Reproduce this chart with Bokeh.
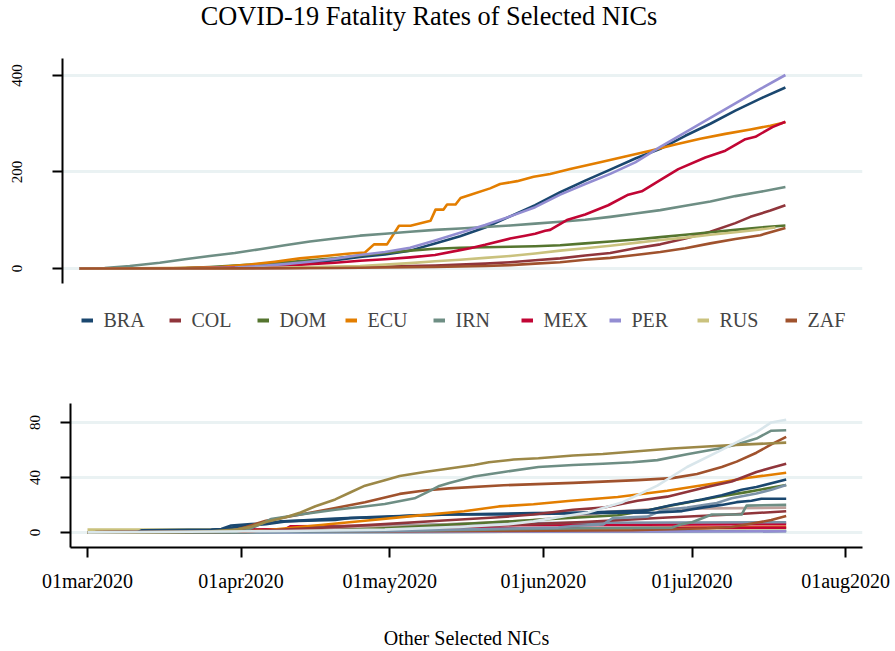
from bokeh.plotting import figure
from bokeh.models import Range1d, FixedTicker, Legend, LegendItem, Label
from bokeh.layouts import column
from bokeh.embed import file_html
from bokeh.resources import INLINE

FONT = "Liberation Serif"

# ---------------- text / ticks ----------------
title_text = "COVID-19 Fatality Rates of Selected NICs"
bottom_axis_label = "Other Selected NICs"
month_tick_days = [0, 31, 61, 92, 122, 153]          # days since 01mar2020
month_tick_labels = ["01mar2020", "01apr2020", "01may2020",
                     "01jun2020", "01jul2020", "01aug2020"]
top_yticks = [0, 200, 400]
bottom_yticks = [0, 40, 80]

# ---------------- top panel: selected NICs ----------------
countries = ["BRA", "COL", "DOM", "ECU", "IRN", "MEX", "PER", "RUS", "ZAF"]
country_colors = ["#1a476f", "#90353b", "#55752f", "#e37e00", "#6e8e84",
                  "#c10534", "#938dd2", "#cac27e", "#a0522d"]

bra_days = [0, 16, 21, 26, 31, 36, 41, 46, 51, 56, 61, 66, 71, 76, 81, 86, 91, 96, 101, 106, 111, 116, 121, 126, 131, 136, 141]
bra_vals = [0, 0, 0.5, 1.5, 3, 5, 8, 12, 17, 24, 29, 37, 52, 67, 85, 108, 131, 158, 182, 205, 228, 248, 275, 300, 327, 352, 375]

col_days = [0, 31, 41, 51, 61, 71, 76, 81, 86, 91, 96, 101, 106, 111, 116, 121, 126, 131, 134, 138, 141]
col_vals = [0, 0.3, 1, 2, 4, 6, 8, 10, 13, 17, 21, 27, 32, 42, 50, 62, 76, 94, 107, 120, 131]

dom_days = [0, 16, 21, 26, 31, 36, 41, 46, 51, 56, 61, 66, 71, 76, 81, 86, 91, 96, 101, 106, 111, 116, 121, 126, 131, 136, 141]
dom_vals = [0, 0, 1, 3, 6, 9, 13, 17, 21, 27, 32, 37, 41, 43, 44, 45, 46, 48, 52, 56, 60, 65, 70, 75, 80, 85, 89]

ecu_days = [0, 20, 28, 34, 39, 44, 49, 54, 57, 58.8, 61.4, 63.8, 66.1, 70.1, 71.1, 72.7, 73.4, 75.1, 76.1, 78.1, 82, 84, 87.4, 90.7, 94, 98, 104, 109, 114, 119, 124, 129, 134, 138, 141]
ecu_vals = [0, 1, 3, 8, 14, 21, 26, 31, 33, 50, 50, 88.6, 88.6, 99, 122, 122, 132.5, 132.5, 146, 153, 166, 175, 181, 190, 196, 206, 220, 232, 244, 257, 269, 279, 288, 296, 303]

irn_days = [0, 5, 10, 16, 21, 26, 31, 36, 41, 46, 51, 56, 61, 66, 71, 76, 81, 86, 91, 96, 101, 106, 111, 116, 121, 126, 131, 136, 141]
irn_vals = [0, 1, 5, 12, 19, 26, 32, 40, 48, 56, 62, 68, 72, 76, 80, 83, 86, 89, 93, 97, 101, 107, 114, 121, 130, 139, 150, 159, 169]

mex_days = [0, 21, 26, 31, 36, 41, 46, 51, 56, 61, 66, 71, 76, 78, 81, 86, 89, 91, 93, 94, 97.5, 101, 105.6, 109.6, 112.3, 116.3, 119.6, 125, 129, 133, 135, 138.4, 141]
mex_vals = [0, 0.3, 1, 2, 4, 6, 9, 12, 16, 19, 23, 28, 38, 42, 49, 62, 68, 72, 78, 80, 101, 112, 131, 153, 160, 185, 206, 230, 244, 268, 273, 293, 304]

per_days = [0, 16, 21, 26, 31, 36, 41, 46, 51, 56, 61, 66, 71, 76, 81, 86, 91, 96, 101, 106, 111, 116, 121, 126, 131, 136, 141]
per_vals = [0, 0, 0.3, 1, 2, 5, 9, 14, 20, 28, 34, 43, 58, 74, 90, 108, 127, 153, 175, 196, 220, 252, 282, 312, 342, 372, 401]

rus_days = [0, 31, 41, 51, 56, 61, 66, 71, 76, 81, 86, 91, 96, 101, 106, 111, 116, 121, 126, 131, 136, 139]
rus_vals = [0, 0.5, 2, 4, 5, 8, 11, 15, 18, 22, 26, 31, 37, 42, 47, 53, 59, 64, 70, 75, 81, 85]

zaf_days = [0, 41, 51, 61, 71, 81, 86, 91, 96, 101, 106, 111, 116, 121, 126, 131, 136, 141]
zaf_vals = [0, 0.5, 1, 2, 3, 5, 7, 10, 13, 18, 22, 28, 34, 42, 52, 61, 69, 84]

top_days = [bra_days, col_days, dom_days, ecu_days, irn_days, mex_days, per_days, rus_days, zaf_days]
top_vals = [bra_vals, col_vals, dom_vals, ecu_vals, irn_vals, mex_vals, per_vals, rus_vals, zaf_vals]

# ---------------- bottom panel: other selected NICs ----------------
o21_days = [0, 70, 141];  o21_vals = [0, 0.3, 1]
o18_days = [0, 60, 141];  o18_vals = [0, 0.3, 0.8]
o19_days = [0, 15, 40, 80, 141];  o19_vals = [2, 2, 2.3, 2.5, 3]
o20_days = [0, 40, 80, 141];  o20_vals = [0, 1, 2, 4]
o17_days = [0, 30, 45, 80, 141];  o17_vals = [0, 0.5, 2, 3, 3.5]
o16_days = [0, 30, 31, 40, 41, 70, 100, 141];  o16_vals = [0, 0.5, 2, 2.5, 4.5, 5, 5.5, 6]
o14_days = [0, 30, 40, 50, 60, 80, 100, 141];  o14_vals = [0, 0.5, 2, 4, 5, 6.5, 7, 7.4]
o15_days = [0, 40, 60, 80, 90, 100, 105, 115, 141];  o15_vals = [0, 1, 4, 7, 9, 12, 15, 17, 18]
o13_days = [0, 40, 80, 110, 125, 130, 135, 138, 141];  o13_vals = [0, 0.5, 1, 1.5, 3, 3.9, 7, 9, 12]
o12_days = [0, 30, 40, 60, 83, 100, 117, 130, 141];  o12_vals = [0, 0.3, 1, 2.5, 5, 7.5, 10.8, 13, 15.4]
o11_days = [0, 30, 40, 60, 80, 100, 118, 120, 122, 126, 132, 133, 141]
o11_vals = [0, 0, 0.5, 1, 2, 3, 3.5, 6, 7.4, 13, 13, 19.5, 20]
o10_days = [0, 40, 50, 60, 70, 80, 90, 100, 107, 113, 117, 127, 133, 141]
o10_vals = [0, 0.5, 1.5, 3, 5, 7, 9, 11, 12.5, 16, 19, 25.8, 29.3, 34.5]
o09_days = [0, 40, 60, 80, 95, 98, 104, 106, 113, 116, 121, 127, 130, 135, 138, 141]
o09_vals = [0, 0.5, 1, 2.5, 3.5, 4.6, 5.7, 10.4, 11.5, 16.1, 18, 21.4, 24.8, 28.3, 31, 34.5]
o08_days = [0, 20, 27, 30, 36, 40, 50, 60, 73, 90, 100, 110, 113, 118, 124, 128, 132, 135, 141]
o08_vals = [0, 0.5, 2, 4, 6, 8, 10, 11.5, 13, 14, 14.5, 15.5, 16, 20, 24, 27, 31, 33, 38.5]
o07_days = [0, 10, 11, 25, 27, 29, 33, 36, 39, 50, 53, 60, 66, 73, 83, 100, 115, 120, 124, 128, 131, 134, 136, 141]
o07_vals = [0, 0, 1.5, 2, 2.5, 5, 6, 6.5, 8, 9, 10.5, 11, 12.5, 13, 13, 14, 14.5, 15.5, 18, 20, 22, 23, 24.5, 24.5]
o06_days = [0, 30, 36, 46, 56, 66, 76, 83, 90, 97, 107, 117, 127, 133, 141]
o06_vals = [0, 0.5, 1.6, 5, 8.5, 12, 15.4, 18.9, 20.5, 22.8, 25.7, 30.3, 36, 39.6, 43.4]
o05_days = [0, 30, 40, 50, 60, 71, 83, 90, 98, 104, 111, 117, 125, 130, 135, 138, 141]
o05_vals = [0, 0.5, 2, 4, 6, 8.5, 11, 13, 16.5, 18, 23, 26, 33, 37, 44, 47, 50]
o03_days = [0, 25, 29, 32, 36, 43, 50, 56, 63, 68, 73, 84, 98, 111, 118, 123, 128, 131, 135, 138, 141]
o03_vals = [0, 0, 1, 4, 8.5, 13, 17.7, 22, 28, 30.5, 32, 34.3, 36, 38, 39.5, 42.5, 47.6, 51.5, 58, 64, 69.5]
o02_days = [0, 25, 30, 32, 35, 37, 43, 50, 55, 60, 66, 69, 71, 73, 78, 84, 91, 98, 104, 110, 115, 121, 128, 131, 135, 138, 141]
o02_vals = [0, 0, 0.5, 1.5, 6, 9.7, 13, 16.5, 18.5, 20.7, 24.8, 30, 33.8, 36, 40.7, 44, 47.6, 49, 50, 51, 52.6, 56.8, 61.4, 64, 68.3, 74, 74.3]
o01_days = [0, 10, 20, 25, 30, 33, 36, 40, 43, 46, 50, 53, 56, 60, 63, 68, 73, 78, 81, 86, 91, 98, 104, 111, 118, 125, 131, 141]
o01_vals = [0, 0, 0.3, 0.8, 2, 4, 7.6, 11, 14.5, 19, 24, 29, 34, 38, 41, 44, 46.5, 49, 51, 53, 54, 56, 57, 59, 61, 62.5, 63.7, 65.3]
o04_days = [0, 40, 60, 75, 85, 90, 95, 101, 108, 115, 121, 128, 135, 138, 141]
o04_vals = [0, 1, 2, 4, 6, 8, 11, 14.5, 22, 34, 47.6, 60, 73, 80, 82]

bottom_series = [
    (o21_days, o21_vals, "#2d6d66"), (o18_days, o18_vals, "#938dd2"),
    (o19_days, o19_vals, "#cac27e"), (o20_days, o20_vals, "#ffd200"),
    (o17_days, o17_vals, "#c10534"), (o16_days, o16_vals, "#c10534"),
    (o14_days, o14_vals, "#7b92a8"), (o15_days, o15_vals, "#bfa19c"),
    (o13_days, o13_vals, "#a0522d"), (o12_days, o12_vals, "#90353b"),
    (o11_days, o11_vals, "#6e8e84"), (o10_days, o10_vals, "#55752f"),
    (o09_days, o09_vals, "#7b92a8"), (o08_days, o08_vals, "#1a476f"),
    (o07_days, o07_vals, "#1a476f"), (o06_days, o06_vals, "#e37e00"),
    (o05_days, o05_vals, "#90353b"), (o03_days, o03_vals, "#a0522d"),
    (o02_days, o02_vals, "#6e8e84"), (o01_days, o01_vals, "#9c8847"),
    (o04_days, o04_vals, "#d9e6eb"),
]

# ---------------- styling ----------------
GRID = "#eaf2f3"
LW = 2.6
X_START, X_END = -3.43, 156.4
TOP_Y_AXIS = (-31.1, 435.2)       # drawn part of the top y axis
TOP_Y_VIEW = (-170.0, 555.4)      # frame also holds title and legend strip


def style_common(p):
    if "frame_align" in p.properties():
        p.frame_align = False
    p.outline_line_color = None
    p.background_fill_color = "white"
    p.border_fill_color = "white"
    p.xgrid.visible = False
    p.ygrid.grid_line_color = GRID
    p.ygrid.grid_line_width = 3
    for ax in p.yaxis:
        ax.axis_line_width = 2
        ax.major_tick_line_width = 2
        ax.major_tick_out = 10
        ax.major_tick_in = 0
        ax.minor_tick_line_color = None
        ax.major_label_orientation = "vertical"
        ax.major_label_text_font = FONT
        ax.major_label_text_font_size = "15px"
        ax.major_label_text_color = "black"


# top figure
TOP_H = 350
top = figure(width=895, height=TOP_H, output_backend="svg", toolbar_location=None,
             x_range=Range1d(X_START, X_END), y_range=Range1d(*TOP_Y_VIEW),
             min_border_left=62, min_border_right=33, min_border_top=0,
             min_border_bottom=0)
style_common(top)
top.xaxis.visible = False
top.yaxis.bounds = TOP_Y_AXIS
top.yaxis.ticker = FixedTicker(ticks=top_yticks)
top.yaxis.major_label_standoff = 30

top.add_layout(Label(x=366.5, y=TOP_H - 16, x_units="screen", y_units="screen",
                     text=title_text, text_align="center", text_baseline="alphabetic",
                     text_font=FONT, text_font_size="26.3px", text_color="black"))

items = []
for name, c, d, v in zip(countries, country_colors, top_days, top_vals):
    top.line(d, v, line_color=c, line_width=LW, line_join="round")
for name, c, d, v in zip(countries, country_colors, top_days, top_vals):
    proxy = top.line(d, v, line_color=c, line_width=4, visible=False)
    items.append(LegendItem(label=name, renderers=[proxy]))

legend = Legend(items=items, orientation="horizontal", location=(18.5, 18),
                padding=3, spacing=0, glyph_width=12, glyph_height=24,
                label_width=65, label_height=24, label_standoff=11,
                label_text_font=FONT, label_text_font_size="20px",
                border_line_color=None, background_fill_alpha=0)
top.add_layout(legend, "center")

# bottom figure
bot = figure(width=895, height=301, output_backend="svg", toolbar_location=None,
             x_range=Range1d(X_START, X_END), y_range=Range1d(-11.0, 93.8),
             min_border_left=70, min_border_right=33, min_border_top=53,
             min_border_bottom=96)
style_common(bot)
bot.yaxis.ticker = FixedTicker(ticks=bottom_yticks)
bot.yaxis.major_label_standoff = 20
xa = bot.xaxis[0]
xa.ticker = FixedTicker(ticks=month_tick_days)
xa.major_label_overrides = {d: lab for d, lab in zip(month_tick_days, month_tick_labels)}
xa.axis_line_width = 2
xa.major_tick_line_width = 2
xa.major_tick_out = 10
xa.major_tick_in = 0
xa.minor_tick_line_color = None
xa.major_label_standoff = 12
xa.major_label_text_font = FONT
xa.major_label_text_font_size = "20px"
xa.major_label_text_color = "black"
xa.axis_label = bottom_axis_label
xa.axis_label_text_font = FONT
xa.axis_label_text_font_size = "20px"
xa.axis_label_text_font_style = "normal"
xa.axis_label_text_color = "black"
xa.axis_label_standoff = 32

for d, v, c in bottom_series:
    bot.line(d, v, line_color=c, line_width=LW, line_join="round")

layout = column(top, bot, spacing=0)
open("out.html", "w").write(file_html(layout, INLINE))
